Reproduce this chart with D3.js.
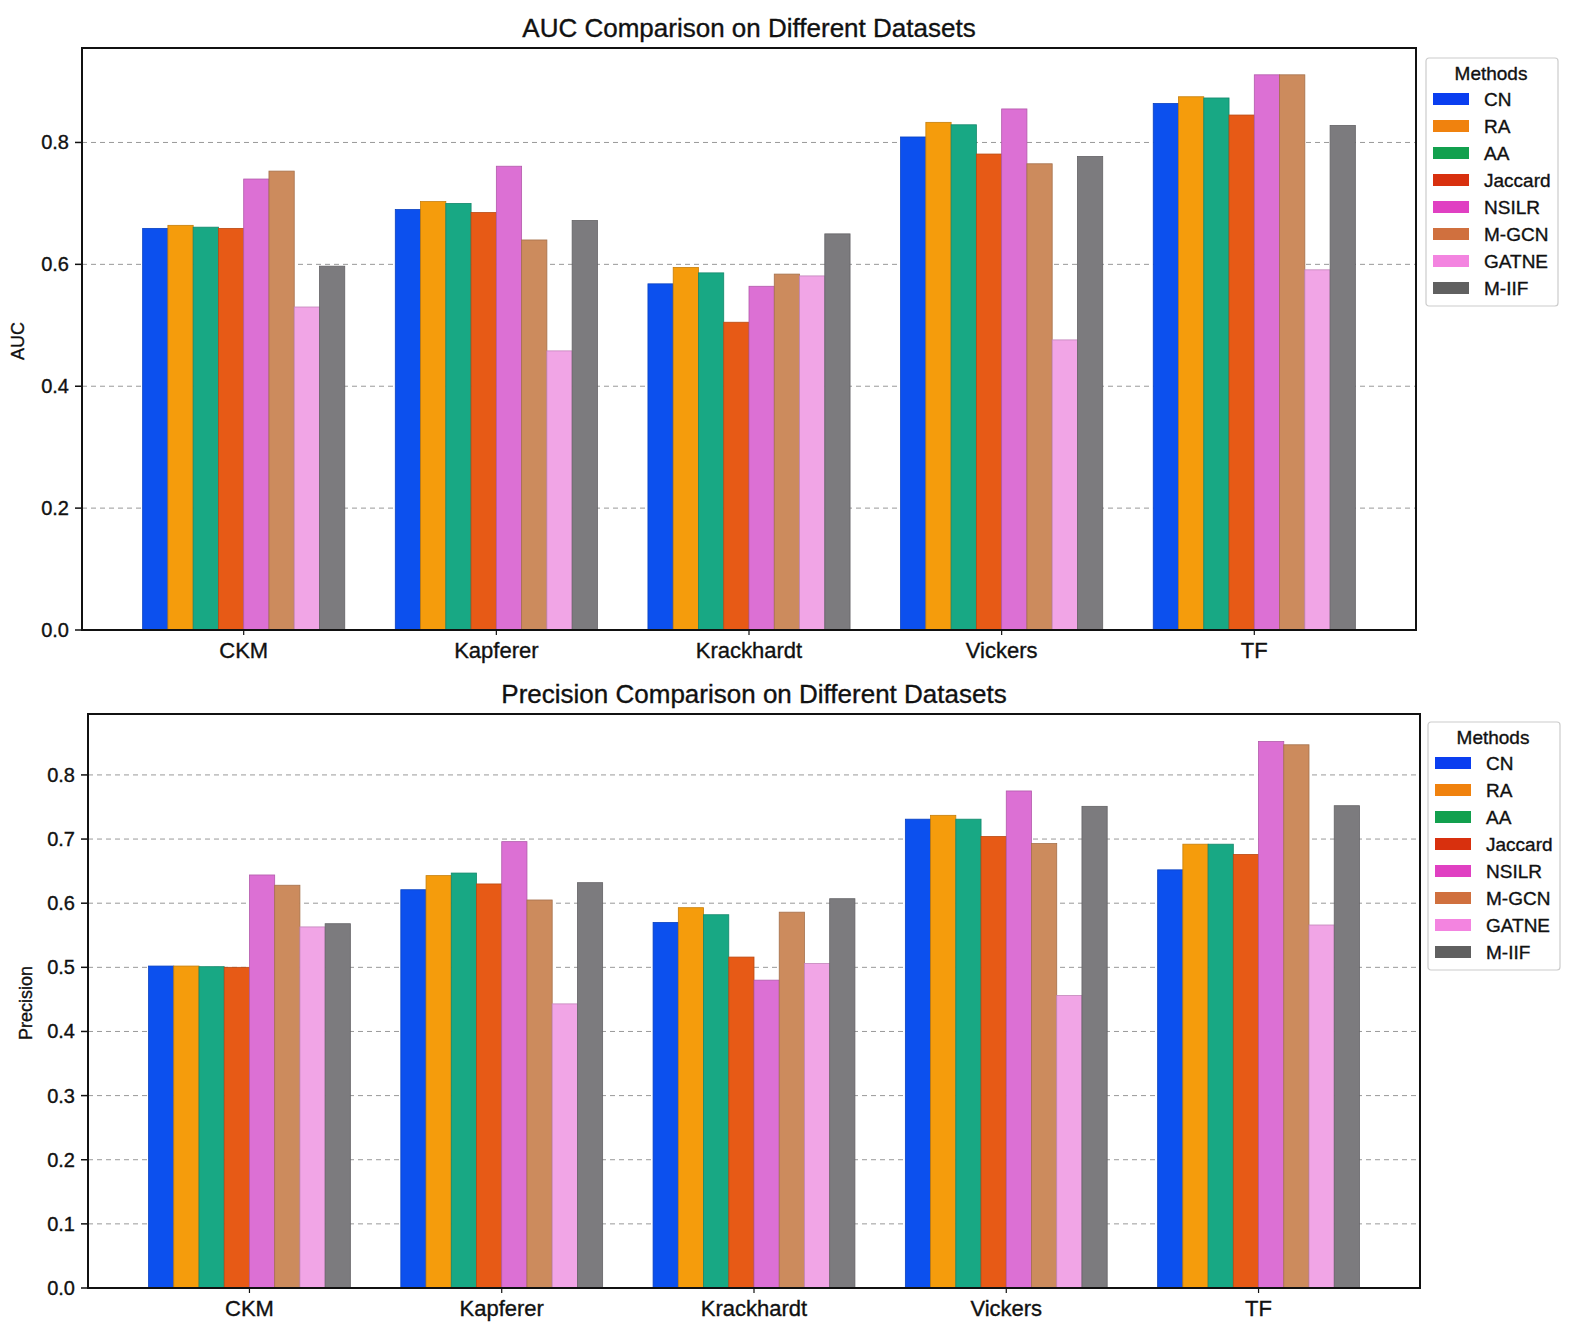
<!DOCTYPE html>
<html>
<head>
<meta charset="utf-8">
<script src="https://cdn.jsdelivr.net/npm/d3@7"></script>
<style>
  body { margin: 0; background: #fff; }
  text { font-family: "Liberation Sans", Arial, sans-serif; fill: #111; stroke: #111; stroke-width: 0.35px; }
</style>
</head>
<body>
<svg id="chart" width="1569" height="1331"></svg>
<script>
// datasets and methods
const datasets = ["CKM", "Kapferer", "Krackhardt", "Vickers", "TF"];
const methods = ["CN", "RA", "AA", "Jaccard", "NSILR", "M-GCN", "GATNE", "M-IIF"];

// AUC values, one array per method (CKM, Kapferer, Krackhardt, Vickers, TF)
const aucCN      = [0.659, 0.690, 0.568, 0.809, 0.864];
const aucRA      = [0.664, 0.703, 0.595, 0.833, 0.875];
const aucAA      = [0.661, 0.700, 0.586, 0.829, 0.873];
const aucJaccard = [0.659, 0.685, 0.505, 0.781, 0.845];
const aucNSILR   = [0.740, 0.761, 0.564, 0.855, 0.911];
const aucMGCN    = [0.753, 0.640, 0.584, 0.765, 0.911];
const aucGATNE   = [0.530, 0.458, 0.581, 0.476, 0.591];
const aucMIIF    = [0.597, 0.672, 0.650, 0.777, 0.828];

// Precision values
const precCN      = [0.502, 0.621, 0.570, 0.731, 0.652];
const precRA      = [0.502, 0.643, 0.593, 0.737, 0.692];
const precAA      = [0.501, 0.647, 0.582, 0.731, 0.692];
const precJaccard = [0.500, 0.630, 0.516, 0.704, 0.676];
const precNSILR   = [0.644, 0.696, 0.480, 0.775, 0.852];
const precMGCN    = [0.628, 0.605, 0.586, 0.693, 0.847];
const precGATNE   = [0.563, 0.443, 0.506, 0.456, 0.566];
const precMIIF    = [0.568, 0.632, 0.607, 0.751, 0.752];

const aucTicks = [0.0, 0.2, 0.4, 0.6, 0.8];
const precTicks = [0.0, 0.1, 0.2, 0.3, 0.4, 0.5, 0.6, 0.7, 0.8];

const barColors = ["#0c50ee", "#f59c0c", "#18a884", "#e75a16", "#dc70d4", "#cc8b5d", "#f1a5e6", "#7c7b7e"];
const legendColors = ["#0a3ef0", "#f0820e", "#12a04e", "#d8300e", "#e040c2", "#d0703e", "#f384e0", "#606060"];

const aucSeries = [aucCN, aucRA, aucAA, aucJaccard, aucNSILR, aucMGCN, aucGATNE, aucMIIF];
const precSeries = [precCN, precRA, precAA, precJaccard, precNSILR, precMGCN, precGATNE, precMIIF];

const svg = d3.select("#chart");

function drawChart(opt) {
  const g = svg.append("g");
  const x = d3.scaleLinear().domain([-0.64, 4.64]).range([opt.left, opt.right]);
  const y = d3.scaleLinear().domain([0, opt.ymax]).range([opt.bottom, opt.top]);
  const barW = 0.1;

  // grid lines
  g.selectAll(".grid")
    .data(opt.ticks.filter(t => t > 0))
    .enter().append("line")
    .attr("x1", opt.left).attr("x2", opt.right)
    .attr("y1", d => y(d)).attr("y2", d => y(d))
    .attr("stroke", "#999").attr("stroke-width", 1)
    .attr("stroke-dasharray", "5,4");

  // bars
  opt.series.forEach(function(vals, j) {
    g.selectAll(".bar" + j)
      .data(vals)
      .enter().append("rect")
      .attr("x", (d, i) => x(i + (j - 4) * barW))
      .attr("y", d => y(d))
      .attr("width", x(barW) - x(0))
      .attr("height", d => y(0) - y(d))
      .attr("fill", barColors[j])
      .attr("stroke", d3.color(barColors[j]).darker(0.6))
      .attr("stroke-width", 0.8);
  });

  // frame
  g.append("rect")
    .attr("x", opt.left).attr("y", opt.top)
    .attr("width", opt.right - opt.left).attr("height", opt.bottom - opt.top)
    .attr("fill", "none").attr("stroke", "#111").attr("stroke-width", 2);

  // y axis ticks
  const yt = g.selectAll(".yt").data(opt.ticks).enter().append("g");
  yt.append("line")
    .attr("x1", opt.left - 7).attr("x2", opt.left)
    .attr("y1", d => y(d)).attr("y2", d => y(d))
    .attr("stroke", "#111").attr("stroke-width", 1.5);
  yt.append("text")
    .attr("x", opt.left - 13).attr("y", d => y(d))
    .attr("dy", "0.35em").attr("text-anchor", "end")
    .attr("font-size", 20)
    .text(d => d.toFixed(1));

  // x axis ticks
  const xt = g.selectAll(".xt").data(datasets).enter().append("g");
  xt.append("line")
    .attr("x1", (d, i) => x(i)).attr("x2", (d, i) => x(i))
    .attr("y1", opt.bottom).attr("y2", opt.bottom + 5)
    .attr("stroke", "#111").attr("stroke-width", 1.2);
  xt.append("text")
    .attr("x", (d, i) => x(i)).attr("y", opt.bottom + 28)
    .attr("text-anchor", "middle").attr("font-size", 22)
    .text(d => d);

  // title and y label
  g.append("text")
    .attr("x", (opt.left + opt.right) / 2).attr("y", opt.top - 11)
    .attr("text-anchor", "middle").attr("font-size", 26)
    .text(opt.title);
  g.append("text")
    .attr("transform", "translate(" + opt.ylabelX + "," + ((opt.top + opt.bottom) / 2 + 2) + ") rotate(-90)")
    .attr("text-anchor", "middle").attr("font-size", 18)
    .text(opt.ylabel);

  // legend
  const lg = g.append("g").attr("transform", "translate(" + opt.legX + "," + opt.legY + ")");
  lg.append("rect")
    .attr("x", 0).attr("y", 0).attr("width", 132).attr("height", 248)
    .attr("rx", 3).attr("fill", "#fff").attr("stroke", "#ccc").attr("stroke-width", 1.2);
  lg.append("text")
    .attr("x", 65).attr("y", 22).attr("text-anchor", "middle").attr("font-size", 19)
    .text("Methods");
  const item = lg.selectAll(".item").data(methods).enter().append("g")
    .attr("transform", (d, i) => "translate(0," + (41 + i * 27) + ")");
  item.append("rect")
    .attr("x", 7).attr("y", -6).attr("width", 36).attr("height", 12)
    .attr("fill", (d, i) => legendColors[i]);
  item.append("text")
    .attr("x", 58).attr("y", 0).attr("dy", "0.36em").attr("font-size", 19)
    .text(d => d);
}

drawChart({
  series: aucSeries, ticks: aucTicks, ymax: 0.955,
  left: 82, right: 1416, top: 48, bottom: 630,
  title: "AUC Comparison on Different Datasets", ylabel: "AUC", ylabelX: 24,
  legX: 1426, legY: 58
});

drawChart({
  series: precSeries, ticks: precTicks, ymax: 0.895,
  left: 88, right: 1420, top: 714, bottom: 1288,
  title: "Precision Comparison on Different Datasets", ylabel: "Precision", ylabelX: 32,
  legX: 1428, legY: 722
});
</script>
</body>
</html>
